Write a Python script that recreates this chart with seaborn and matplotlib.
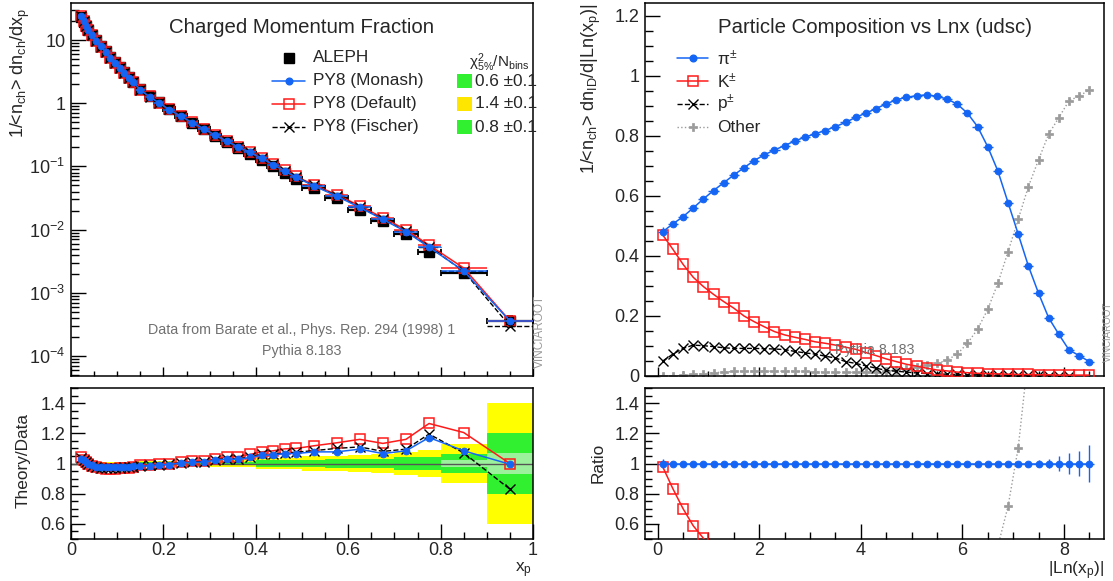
import matplotlib
matplotlib.use("Agg")
import matplotlib.pyplot as plt
import numpy as np
import pandas as pd
import seaborn as sns
from matplotlib.lines import Line2D
from matplotlib.patches import Rectangle
from matplotlib.ticker import FixedLocator, FuncFormatter, LogLocator, MultipleLocator, NullFormatter

# ---- left: charged momentum fraction (ALEPH vs Pythia 8 tunes) ----
xp_edges = [0.02, 0.025, 0.03, 0.035, 0.04, 0.05, 0.06, 0.07, 0.08, 0.09, 0.10, 0.11, 0.12, 0.13, 0.14,
            0.16, 0.18, 0.20, 0.225, 0.25, 0.275, 0.30, 0.325, 0.35, 0.375, 0.40, 0.425, 0.45, 0.475,
            0.50, 0.55, 0.60, 0.65, 0.70, 0.75, 0.80, 0.90, 1.00]
aleph = [23.4, 19.6, 16.6, 14.3, 12.0, 9.9, 8.1, 6.6, 5.4, 4.45, 3.7, 3.1, 2.6, 2.2,
         1.65, 1.29, 1.03,
         0.80, 0.62, 0.49, 0.39, 0.305, 0.243, 0.197, 0.160, 0.128, 0.101, 0.080, 0.063,
         0.046, 0.0315, 0.0205, 0.0136, 0.0086, 0.0045,
         0.00205, 0.00036]
ratio_monash = [1.03, 1.02, 1.01, 1.0, 0.99, 0.98, 0.975, 0.975, 0.975, 0.975, 0.978, 0.98, 0.98, 0.982,
                0.983, 0.985, 0.99, 0.993, 1.004, 1.007, 1.01, 1.022, 1.03, 1.027, 1.04, 1.055, 1.057,
                1.066, 1.066, 1.077, 1.077, 1.095, 1.066, 1.084, 1.172, 1.084, 0.995]
ratio_default = [1.04, 1.025, 1.01, 1.0, 0.985, 0.975, 0.97, 0.965, 0.965, 0.965, 0.968, 0.97, 0.972, 0.975,
                 0.99, 0.99, 0.995, 1.0, 1.007, 1.015, 1.018, 1.03, 1.045, 1.045, 1.06, 1.077, 1.084,
                 1.097, 1.10, 1.117, 1.137, 1.16, 1.133, 1.16, 1.265, 1.205, 1.0]
ratio_fischer = [1.035, 1.02, 1.008, 0.998, 0.985, 0.975, 0.97, 0.97, 0.97, 0.97, 0.973, 0.975, 0.977, 0.98,
                 0.985, 0.987, 0.99, 0.995, 1.005, 1.01, 1.012, 1.025, 1.033, 1.03, 1.045, 1.06, 1.062,
                 1.07, 1.075, 1.085, 1.10, 1.11, 1.08, 1.095, 1.195, 1.07, 0.83]
# relative data uncertainty bands (1 sigma green, 2 sigma yellow) and MC stat band
band_green = [0.006, 0.006, 0.006, 0.006, 0.006, 0.006, 0.006, 0.006, 0.006, 0.006, 0.006, 0.006, 0.006, 0.006,
              0.007, 0.007, 0.007, 0.008, 0.008, 0.008, 0.008, 0.013, 0.013, 0.013, 0.013,
              0.02, 0.02, 0.02, 0.02, 0.025, 0.027, 0.03, 0.033, 0.04, 0.045, 0.065, 0.2]
band_yellow = [0.012, 0.012, 0.012, 0.012, 0.012, 0.012, 0.012, 0.012, 0.012, 0.012, 0.012, 0.012, 0.012, 0.012,
               0.014, 0.014, 0.014, 0.016, 0.016, 0.016, 0.016, 0.026, 0.026, 0.026, 0.026,
               0.038, 0.038, 0.038, 0.038, 0.048, 0.052, 0.057, 0.063, 0.075, 0.09, 0.13, 0.4]
band_mc = [0, 0, 0, 0, 0, 0, 0, 0, 0, 0, 0, 0, 0, 0, 0, 0, 0, 0, 0, 0, 0, 0, 0, 0, 0,
           0, 0, 0, 0, 0, 0, 0, 0, 0, 0, 0.02, 0.067]
chi2_labels = ["0.6 \u00b10.1", "1.4 \u00b10.1", "0.8 \u00b10.1"]

# ---- right: particle composition vs |ln x_p| ----
lnx = [0.1, 0.3, 0.5, 0.7, 0.9, 1.1, 1.3, 1.5, 1.7, 1.9, 2.1, 2.3, 2.5, 2.7, 2.9, 3.1, 3.3, 3.5, 3.7, 3.9,
       4.1, 4.3, 4.5, 4.7, 4.9, 5.1, 5.3, 5.5, 5.7, 5.9, 6.1, 6.3, 6.5, 6.7, 6.9, 7.1, 7.3, 7.5, 7.7, 7.9,
       8.1, 8.3, 8.5]
pion = [0.481, 0.507, 0.531, 0.56, 0.59, 0.618, 0.644, 0.67, 0.694, 0.718,
        0.737, 0.753, 0.768, 0.783, 0.796, 0.807, 0.818, 0.831, 0.845, 0.862,
        0.876, 0.891, 0.907, 0.92, 0.929, 0.934, 0.937, 0.932, 0.923, 0.906,
        0.876, 0.831, 0.764, 0.683, 0.578, 0.473, 0.367, 0.276, 0.194, 0.139,
        0.087, 0.068, 0.048]
pion_relerr = [0.03, 0.005, 0.005, 0.005, 0.005, 0.005, 0.005, 0.005, 0.005, 0.005,
               0.005, 0.005, 0.005, 0.005, 0.005, 0.005, 0.005, 0.005, 0.005, 0.005,
               0.005, 0.005, 0.005, 0.005, 0.005, 0.005, 0.005, 0.005, 0.005, 0.005,
               0.005, 0.005, 0.005, 0.005, 0.005, 0.005, 0.005, 0.02, 0.033, 0.05,
               0.07, 0.085, 0.12]
kaon = [0.47, 0.422, 0.372, 0.329, 0.298, 0.272, 0.248, 0.226, 0.2, 0.181,
        0.164, 0.148, 0.137, 0.129, 0.122, 0.114, 0.109, 0.103, 0.096, 0.089,
        0.078, 0.068, 0.057, 0.048, 0.039, 0.033, 0.026, 0.02, 0.017, 0.013,
        0.011, 0.009, 0.008, 0.007, 0.006, 0.005, 0.005, 0.004, 0.004, 0.003,
        0.003, 0.003, 0.003]
proton = [0.05, 0.073, 0.092, 0.103, 0.101, 0.098, 0.094, 0.092, 0.092, 0.092,
          0.091, 0.09, 0.088, 0.082, 0.077, 0.073, 0.066, 0.06, 0.048, 0.042,
          0.034, 0.026, 0.019, 0.016, 0.013, 0.01, 0.008, 0.007, 0.006, 0.005,
          0.004, 0.004, 0.003, 0.003, 0.003, 0.002, 0.002, 0.002, 0.001, 0.001,
          0.001, np.nan, np.nan]
other = [0.0, 0.0, 0.002, 0.005, 0.008, 0.011, 0.013, 0.015, 0.016, 0.016,
         0.016, 0.016, 0.016, 0.016, 0.015, 0.014, 0.013, 0.012, 0.012, 0.012,
         0.012, 0.014, 0.016, 0.02, 0.024, 0.031, 0.037, 0.042, 0.053, 0.073,
         0.109, 0.156, 0.222, 0.309, 0.414, 0.522, 0.631, 0.72, 0.806, 0.861,
         0.917, 0.933, 0.953]

BLUE = "#1565f5"
RED = "#ff1a1a"
GRAY = "#9b9b9b"
YELLOW = "#ffff00"
GREEN = "#30f030"
LIGHTGREEN = "#9cf29c"
TXTGRAY = "#707070"

sns.set_theme(style="ticks")
plt.rcParams["font.family"] = ["Liberation Sans", "DejaVu Sans"]
plt.rcParams["mathtext.fontset"] = "custom"
plt.rcParams["mathtext.rm"] = "Liberation Sans"
plt.rcParams["mathtext.it"] = "Liberation Sans:italic"
plt.rcParams["mathtext.bf"] = "Liberation Sans:bold"
plt.rcParams["mathtext.default"] = "rm"

W, H = 1113, 581
fig = plt.figure(figsize=(W / 100, H / 100), dpi=100)

STYLE = {
    "monash": dict(color=BLUE, lw=1.1, marker="o", ms=4.8, mec=BLUE, mfc=BLUE),
    "default": dict(color=RED, lw=1.1, marker="s", ms=7.5, mfc="none", mec=RED, mew=1.1),
    "fischer": dict(color="black", lw=1.0, ls="--", marker="x", ms=6.5, mec="black", mew=1.0),
    "other": dict(color=GRAY, lw=1.0, ls=":", marker="P", ms=5.8, mec=GRAY, mfc=GRAY, mew=0.5),
}


def panel(x0, y0, x1, y1):
    return fig.add_axes([x0 / W, 1 - y1 / H, (x1 - x0) / W, (y1 - y0) / H])


def px(x, y):
    return x / W, 1 - y / H


def root_ticks(ax, xmaj, ymaj):
    ax.tick_params(which="both", direction="in", top=False, right=False, labelsize=13,
                   color="black", width=1)
    ax.tick_params(axis="x", which="major", length=xmaj, pad=2)
    ax.tick_params(axis="x", which="minor", length=xmaj / 2)
    ax.tick_params(axis="y", which="major", length=ymaj, pad=4)
    ax.tick_params(axis="y", which="minor", length=ymaj / 2)
    for s in ax.spines.values():
        s.set_linewidth(1.1)
        s.set_color("black")


def legend_row(x0, x1, y, xt, label, style, line=True):
    st = dict(style)
    mark = Line2D([(x0 + x1) / 2 / W], [1 - y / H], transform=fig.transFigure, ls="none",
                  **{k: v for k, v in st.items() if k not in ("ls", "lw")})
    if line:
        fig.add_artist(Line2D([x0 / W, x1 / W], [1 - y / H] * 2, transform=fig.transFigure,
                              color=st["color"], lw=st["lw"], ls=st.get("ls", "-")))
    fig.add_artist(mark)
    fig.text(xt / W, 1 - y / H, label, ha="left", va="center", fontsize=12.4)


fmt_g = FuncFormatter(lambda v, _: f"{v:g}")

ax_tl = panel(71, 3, 533, 376)
ax_bl = panel(71, 388, 533, 539)
ax_tr = panel(645, 3, 1104, 376)
ax_br = panel(645, 388, 1104, 539)

# ---------------- top left ----------------
edges = np.array(xp_edges)
xc = (edges[:-1] + edges[1:]) / 2
hw = np.diff(edges) / 2
data = np.array(aleph)
tl = pd.DataFrame({
    "xp": xc,
    "monash": data * np.array(ratio_monash),
    "default": data * np.array(ratio_default),
    "fischer": data * np.array(ratio_fischer),
})

ax = ax_tl
ax.errorbar(xc, data, xerr=hw, yerr=data * np.array(band_green), fmt="s", color="black", ms=6.5,
            capsize=2.5, elinewidth=1.6, capthick=1.3, zorder=2)
ax.errorbar(tl.xp, tl["default"], xerr=hw, fmt="none", ecolor=RED, elinewidth=1.1, zorder=3)
sns.lineplot(data=tl, x="xp", y="default", ax=ax, estimator=None, sort=False, zorder=3,
             **STYLE["default"])
eb = ax.errorbar(tl.xp, tl["fischer"], xerr=hw, fmt="none", ecolor="black", elinewidth=1.0, zorder=4)
eb[2][0].set_linestyle("--")
sns.lineplot(data=tl, x="xp", y="fischer", ax=ax, estimator=None, sort=False, zorder=4,
             **STYLE["fischer"])
ax.errorbar(tl.xp, tl["monash"], xerr=hw, fmt="none", ecolor=BLUE, elinewidth=1.1, zorder=5)
sns.lineplot(data=tl, x="xp", y="monash", ax=ax, estimator=None, sort=False, zorder=5,
             **STYLE["monash"])
ax.set_yscale("log")
ax.set_xlim(0, 1)
ax.set_ylim(4.83e-5, 38.5)
ax.xaxis.set_major_locator(MultipleLocator(0.2))
ax.xaxis.set_minor_locator(MultipleLocator(0.05))
ax.xaxis.set_major_formatter(NullFormatter())
ax.yaxis.set_major_locator(FixedLocator([1e-4, 1e-3, 1e-2, 1e-1, 1, 10]))
ax.yaxis.set_major_formatter(FuncFormatter(
    lambda v, _: {1: "1", 10: "10"}.get(round(v, 6), f"$10^{{{int(round(np.log10(v)))}}}$")))
ax.yaxis.set_minor_locator(LogLocator(base=10, subs=np.arange(2, 10)))
ax.yaxis.set_minor_formatter(NullFormatter())
ax.set_xlabel("")
ax.set_ylabel("")
root_ticks(ax, 6.5, 10.8)
ax.text(0.5, 0.935, "Charged Momentum Fraction", transform=ax.transAxes, ha="center", va="center",
        fontsize=14.7)
ax.text(0.5, 1 - (330 - 3) / 373, "Data from Barate et al., Phys. Rep. 294 (1998) 1",
        transform=ax.transAxes, ha="center", va="center", fontsize=10.3, color=TXTGRAY)
ax.text(0.5, 1 - (351 - 3) / 373, "Pythia 8.183", transform=ax.transAxes, ha="center", va="center",
        fontsize=10.3, color=TXTGRAY)

legend_row(272, 305, 58, 313, "ALEPH", dict(color="black", lw=0, marker="s", ms=6.5, mec="black"),
           line=False)
legend_row(272, 305, 81, 313, "PY8 (Monash)", STYLE["monash"])
legend_row(272, 305, 104, 313, "PY8 (Default)", STYLE["default"])
legend_row(272, 305, 127, 313, "PY8 (Fischer)", STYLE["fischer"])
fig.text(*px(499, 63), r"$\chi^{2}_{5\%}$/N$_{bins}$", ha="center", va="center", fontsize=11)
for row, (lab, col) in enumerate(zip(chi2_labels, [GREEN, "#ffe600", GREEN])):
    yc = 81 + row * 23
    fig.patches.append(Rectangle(px(457, yc + 7), 15 / W, 14 / H, transform=fig.transFigure,
                                 color=col, lw=0))
    fig.text(*px(475, yc), lab, ha="left", va="center", fontsize=12.4)

# ---------------- bottom left ----------------
ax = ax_bl
lo = edges[:-1]
wid = np.diff(edges)
yb = np.array(band_yellow)
gb = np.array(band_green)
mb = np.array(band_mc)
ax.bar(lo, 2 * yb, bottom=1 - yb, width=wid, align="edge", color=YELLOW, lw=0, zorder=1)
ax.bar(lo, 2 * gb, bottom=1 - gb, width=wid, align="edge", color=GREEN, lw=0, zorder=1)
ax.bar(lo, 2 * mb, bottom=1 - mb, width=wid, align="edge", color=LIGHTGREEN, lw=0, zorder=1)
ax.axhline(1, color="#555555", lw=1.0, zorder=2)
bl = pd.DataFrame({"xp": xc, "monash": ratio_monash, "default": ratio_default, "fischer": ratio_fischer})
for key, z in (("default", 3), ("fischer", 4), ("monash", 5)):
    sns.lineplot(data=bl, x="xp", y=key, ax=ax, estimator=None, sort=False, zorder=z, **STYLE[key])
ax.set_xlim(0, 1)
ax.set_ylim(0.5, 1.5)
ax.xaxis.set_major_locator(MultipleLocator(0.2))
ax.xaxis.set_minor_locator(MultipleLocator(0.05))
ax.yaxis.set_major_locator(FixedLocator([0.6, 0.8, 1.0, 1.2, 1.4]))
ax.yaxis.set_minor_locator(MultipleLocator(0.05))
ax.xaxis.set_major_formatter(fmt_g)
ax.yaxis.set_major_formatter(fmt_g)
ax.set_xlabel("")
ax.set_ylabel("")
root_ticks(ax, 10.8, 10)
fig.text(*px(23, 461), "Theory/Data", rotation=90, ha="center", va="center", fontsize=12.4)
fig.text(*px(532, 570), "x$_{p}$", ha="right", va="center", fontsize=12.4)
fig.text(*px(20, 8), "1/<n$_{ch}$> dn$_{ch}$/dx$_{p}$", rotation=90, ha="center", va="top",
         fontsize=13)
fig.text(*px(540, 332), "VINCIAROOT", rotation=90, ha="center", va="center", fontsize=8.5,
         color="#9a9a9a")

# ---------------- top right ----------------
ax = ax_tr
tr = pd.DataFrame({"lnx": lnx, "monash": pion, "default": kaon, "fischer": proton, "other": other})
pion_a = np.array(pion)
ax.errorbar(lnx, pion, xerr=0.1, yerr=pion_a * np.array(pion_relerr), fmt="none", ecolor=BLUE,
            elinewidth=1.0, zorder=5)
for key, z in (("other", 2), ("fischer", 3), ("default", 4), ("monash", 5)):
    sns.lineplot(data=tr, x="lnx", y=key, ax=ax, estimator=None, sort=False, zorder=z, **STYLE[key])
ax.set_xlim(-0.25, 8.79)
ax.set_ylim(0, 1.243)
ax.xaxis.set_major_locator(MultipleLocator(2))
ax.xaxis.set_minor_locator(MultipleLocator(0.5))
ax.xaxis.set_major_formatter(NullFormatter())
ax.yaxis.set_major_locator(MultipleLocator(0.2))
ax.yaxis.set_minor_locator(MultipleLocator(0.05))
ax.yaxis.set_major_formatter(fmt_g)
ax.set_xlabel("")
ax.set_ylabel("")
root_ticks(ax, 6.5, 10.8)
ax.text(0.5, 0.935, "Particle Composition vs Lnx (udsc)", transform=ax.transAxes, ha="center",
        va="center", fontsize=14.7)
ax.text(0.5, 1 - (350 - 3) / 373, "Pythia 8.183", transform=ax.transAxes, ha="center", va="center",
        fontsize=10.3, color=TXTGRAY, zorder=6)
legend_row(677, 708, 58, 717, r"$\pi^{\pm}$", STYLE["monash"])
legend_row(677, 708, 81, 717, r"K$^{\pm}$", STYLE["default"])
legend_row(677, 708, 104, 717, r"p$^{\pm}$", STYLE["fischer"])
legend_row(677, 708, 127, 717, "Other", STYLE["other"])
fig.text(*px(591, 4), "1/<n$_{ch}$> dn$_{ID}$/d|Ln(x$_{p}$)|", rotation=90, ha="center",
         va="top", fontsize=13)
fig.text(*px(1108, 332), "VINCIAROOT", rotation=90, ha="center", va="center", fontsize=7,
         color="#9a9a9a")

# ---------------- bottom right ----------------
ax = ax_br
br = pd.DataFrame({
    "lnx": lnx,
    "monash": pion_a / pion_a,
    "default": np.array(kaon) / pion_a,
    "fischer": np.array(proton) / pion_a,
    "other": np.array(other) / pion_a,
})
ax.errorbar(lnx, br["monash"], xerr=0.1, yerr=np.array(pion_relerr), fmt="none", ecolor=BLUE,
            elinewidth=1.0, zorder=5)
for key, z in (("other", 2), ("fischer", 3), ("default", 4), ("monash", 5)):
    sns.lineplot(data=br, x="lnx", y=key, ax=ax, estimator=None, sort=False, zorder=z, **STYLE[key])
ax.set_xlim(-0.25, 8.79)
ax.set_ylim(0.5, 1.5)
ax.xaxis.set_major_locator(MultipleLocator(2))
ax.xaxis.set_minor_locator(MultipleLocator(0.5))
ax.yaxis.set_major_locator(FixedLocator([0.6, 0.8, 1.0, 1.2, 1.4]))
ax.yaxis.set_minor_locator(MultipleLocator(0.05))
ax.xaxis.set_major_formatter(fmt_g)
ax.yaxis.set_major_formatter(fmt_g)
ax.set_xlabel("")
ax.set_ylabel("")
root_ticks(ax, 10.8, 10)
fig.text(*px(598, 463), "Ratio", rotation=90, ha="center", va="center", fontsize=12.4)
fig.text(*px(1104, 571), "|Ln(x$_{p}$)|", ha="right", va="center", fontsize=12.4)

fig.savefig("out.png", dpi=100)
